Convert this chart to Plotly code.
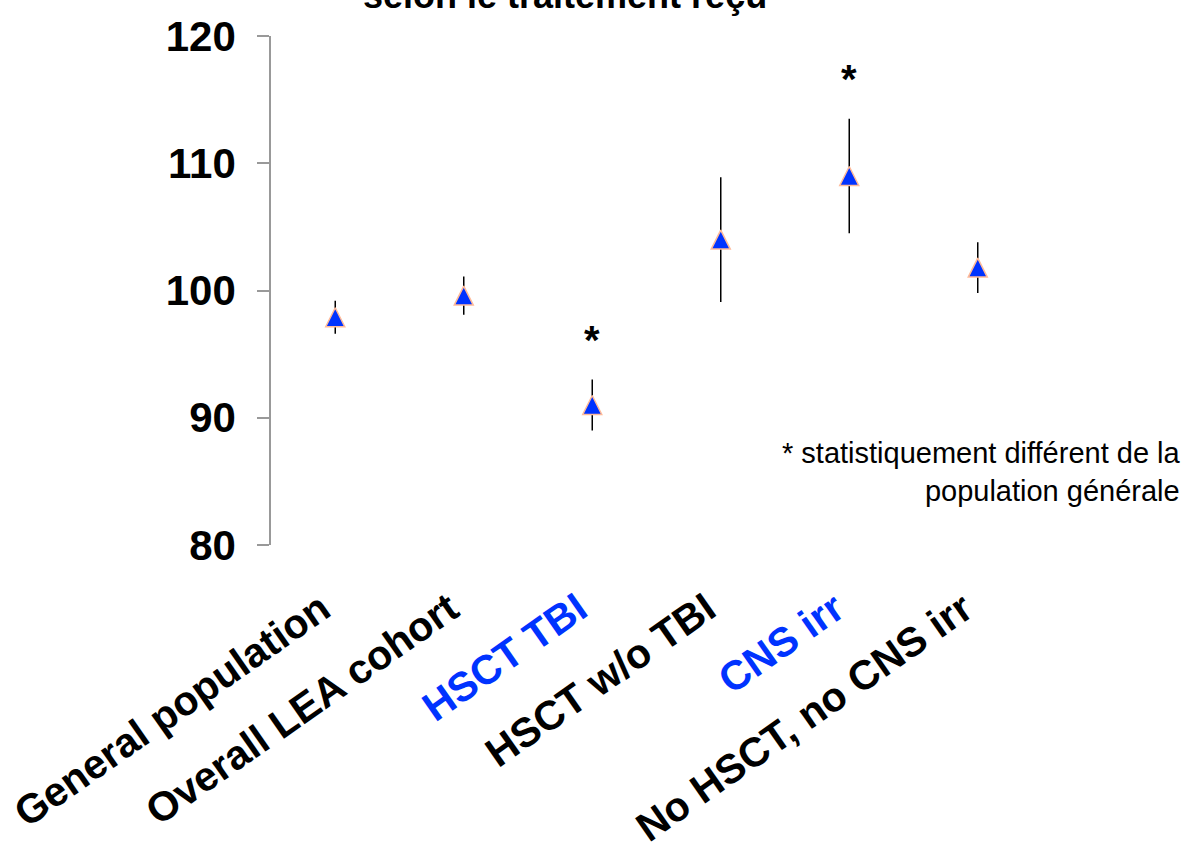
import plotly.graph_objects as go

# ---- data ----
categories = ["General population", "Overall LEA cohort", "HSCT TBI",
              "HSCT w/o TBI", "CNS irr", "No HSCT, no CNS irr"]
label_colors = ["black", "black", "#0033FF", "black", "#0033FF", "black"]
iq_mean = [97.9, 99.6, 91.0, 104.0, 109.0, 101.8]
iq_err = [1.3, 1.5, 2.0, 4.9, 4.5, 2.0]
significant = [False, False, True, False, True, False]
y_ticks = [80, 90, 100, 110, 120]
title_text = "selon le traitement reçu"
footnote = "* statistiquement différent de la<br>population générale"

FONT = "Liberation Sans, Arial, sans-serif"
xpos = list(range(len(categories)))
MSIZE = 19

fig = go.Figure()
fig.add_trace(go.Scatter(
    x=xpos, y=iq_mean, mode="markers",
    error_y=dict(type="data", array=iq_err, color="black", thickness=1.5, width=0),
    marker=dict(symbol="arrow-down", angle=180, size=MSIZE, standoff=MSIZE / 2, color="#0033FF",
                line=dict(color="#FFBB99", width=1.5)),
    showlegend=False, hoverinfo="skip",
))

ticktext = [f'<span style="color:{c}">{t}</span>' for t, c in zip(categories, label_colors)]

annotations = []
for i, (m, e, s) in enumerate(zip(iq_mean, iq_err, significant)):
    if s:
        annotations.append(dict(x=i, y=m + e + 3.1, xref="x", yref="y", text="<b>*</b>",
                                showarrow=False, font=dict(family=FONT, size=40, color="black"),
                                xanchor="center", yanchor="middle"))
annotations.append(dict(x=0.381, y=1.035, xref="paper", yref="paper", text=f"<b>{title_text}</b>",
                        showarrow=False, font=dict(family=FONT, size=36, color="black"),
                        xanchor="center", yanchor="bottom"))
annotations.append(dict(x=1.183, y=0.143, xref="paper", yref="paper", text=footnote,
                        showarrow=False, align="right", font=dict(family=FONT, size=29, color="black"),
                        xanchor="right", yanchor="middle"))

fig.update_layout(
    width=1204, height=851, autosize=False,
    margin=dict(l=271, r=162, t=36, b=306, pad=0),
    paper_bgcolor="white", plot_bgcolor="white",
    font=dict(family=FONT, color="black"),
    annotations=annotations,
    xaxis=dict(range=[-0.5, len(categories) - 0.5], tickvals=xpos, ticktext=ticktext,
               tickangle=-35, tickfont=dict(family=FONT, size=41, weight="bold"),
               showline=False, showgrid=False, zeroline=False, ticks="",
               ticklabelstandoff=31, ticklabelshift=-14, automargin=False),
    yaxis=dict(range=[80, 120], tickvals=y_ticks, showline=True, linecolor="#999999", linewidth=1.5,
               ticks="outside", ticklen=12, tickcolor="#999999", tickwidth=1.5,
               tickfont=dict(family=FONT, size=42, weight="bold"),
               showgrid=False, zeroline=False, ticklabelstandoff=13, automargin=False),
)

fig.write_html("out.html", config={"displayModeBar": False},
               post_script="document.body.style.margin='0';")
